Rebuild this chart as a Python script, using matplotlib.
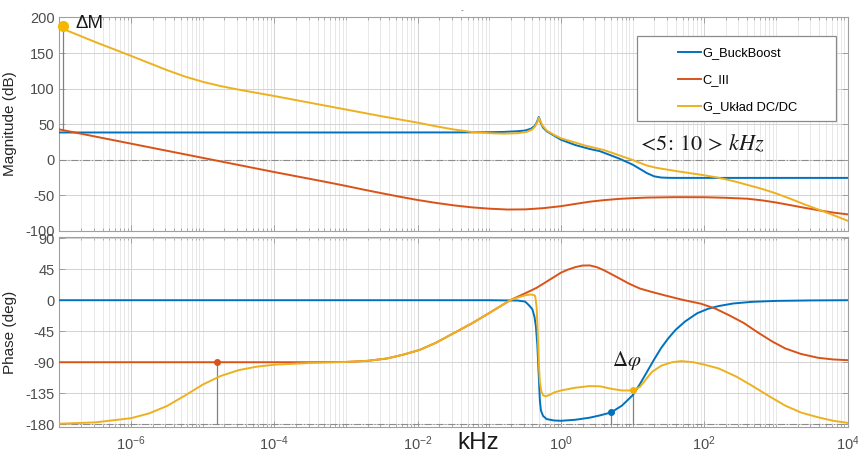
import numpy as np
import matplotlib
matplotlib.use("Agg")
import matplotlib.pyplot as plt
from matplotlib.ticker import LogLocator, MultipleLocator, NullFormatter, FixedLocator
from matplotlib.patches import Rectangle

plt.rcParams['font.family'] = ['Liberation Sans', 'DejaVu Sans']
plt.rcParams['axes.unicode_minus'] = False

# ---------------- data (frequency given as log10 of kHz) ----------------
series_names = ["G_BuckBoost", "C_III", "G_Układ DC/DC"]

mag_buck_exp = [-7, -3, -1.5, -1.0, -0.8, -0.6, -0.5, -0.42, -0.37, -0.34, -0.32, -0.31,
                -0.30, -0.28, -0.25, -0.2, -0.1, 0, 0.2, 0.4, 0.54, 0.8, 1.0, 1.1, 1.2,
                1.3, 1.4, 1.5, 1.6, 2.5, 4]
mag_buck_db = [38.2, 38.2, 38.3, 38.6, 39.0, 40.0, 41.0, 43.5, 47, 52, 57, 60,
               57.5, 51, 45, 40, 34, 28, 20.5, 15, 12, 2, -7, -13, -19,
               -23.5, -25.2, -25.6, -25.7, -25.7, -25.7]

mag_c3_exp = [-7, -6, -5, -4, -3.3, -3, -2.75, -2.5, -2.25, -2, -1.75, -1.5, -1.25, -1.0,
              -0.75, -0.5, -0.25, 0, 0.2, 0.4, 0.6, 0.8, 1.0, 1.2, 1.6, 2.0, 2.3, 2.6,
              2.8, 3.0, 3.2, 3.4, 3.6, 3.8, 4.0]
mag_c3_db = [42.5, 22.5, 2.5, -17.5, -31, -37, -42.3, -47.3, -52.2, -56.8, -60.8, -64.3,
             -67.1, -69, -70.2, -70, -68.3, -65.5, -62.3, -59.2, -57, -55.3, -54.2, -53.4,
             -52.8, -52.9, -53.7, -55, -57.2, -60.3, -64, -67.8, -71.3, -74.5, -77]

mag_sys_exp = [-7, -6.5, -6, -5.75, -5.5, -5.25, -5, -4.75, -4.5, -4.25, -4, -3.5, -3,
               -2.5, -2, -1.75, -1.5, -1.25, -1.0, -0.8, -0.6, -0.48, -0.4, -0.36, -0.33,
               -0.31, -0.29, -0.26, -0.2, -0.1, 0, 0.2, 0.33, 0.6, 0.8, 1.0, 1.1, 1.2,
               1.3, 1.4, 1.6, 1.8, 2.0, 2.2, 2.4, 2.6, 2.8, 3.0, 3.2, 3.4, 3.6, 3.8, 4.0]
mag_sys_db = [186, 165.5, 146, 136, 126, 117, 109.5, 103.5, 98.5, 94, 89.5, 80, 70.5,
              61, 52, 47, 42.5, 39, 37.2, 36.6, 37.2, 39, 42.5, 47, 53,
              59, 55, 48, 41, 35, 30, 24, 20, 13.5, 6.5, -0.5, -4.5, -8.3,
              -10.8, -12.7, -16, -19, -22, -25.5, -30, -35.5, -41, -47.5, -55, -63, -70.5,
              -78, -86]

ph_buck_exp = [-7, -1.0, -0.6, -0.5, -0.45, -0.40, -0.37, -0.35, -0.33, -0.31, -0.295,
               -0.28, -0.25, -0.2, -0.1, 0, 0.2, 0.4, 0.55, 0.7, 0.85, 1.0, 1.1, 1.2,
               1.3, 1.4, 1.5, 1.6, 1.73, 1.9, 2.05, 2.2, 2.4, 2.66, 3.0, 3.5, 4]
ph_buck_deg = [0, 0, -0.5, -2, -7, -13, -24, -38, -65, -110, -145,
               -160, -168, -172.5, -174.5, -175, -173.5, -170.5, -167, -162.8, -153, -138,
               -122, -104, -86, -69, -55, -43, -31, -19, -12.5, -8.5, -4.8, -2.4, -1, -0.3, 0]

ph_c3_exp = [-7, -3.5, -3.0, -2.7, -2.43, -2.2, -1.97, -1.75, -1.5, -1.25, -1.04, -0.85,
             -0.71, -0.5, -0.34, -0.2, -0.1, 0, 0.1, 0.2, 0.3, 0.4, 0.5, 0.6, 0.7, 0.8,
             0.95, 1.1, 1.25, 1.45, 1.7, 1.95, 2.15, 2.35, 2.55, 2.75, 2.95, 3.13, 3.35,
             3.59, 3.8, 4.0]
ph_c3_deg = [-90, -90, -89.6, -88, -84.6, -79, -72, -62, -48, -34, -21, -9,
             0, 10, 18, 27, 33.5, 40, 44.5, 48, 50.3, 50.5, 48, 43.5, 38, 32.5,
             24, 17, 12.5, 7, 0.5, -5, -12, -22, -33, -47, -60, -70, -78,
             -83.6, -86, -87]

ph_sys_exp = [-7, -6.5, -6, -5.75, -5.5, -5.25, -5.0, -4.75, -4.5, -4.25, -4.0, -3.5, -3.0,
              -2.7, -2.43, -2.2, -1.97, -1.75, -1.5, -1.25, -1.04, -0.85, -0.71, -0.6,
              -0.5, -0.43, -0.38, -0.36, -0.34, -0.325, -0.31, -0.295, -0.275, -0.25,
              -0.21, -0.15, -0.1, 0, 0.2, 0.4, 0.55, 0.7, 0.85, 1.0, 1.1, 1.27, 1.4,
              1.55, 1.68, 1.85, 2.0, 2.2, 2.45, 2.66, 2.9, 3.13, 3.35, 3.59, 3.8, 4.0]
ph_sys_deg = [-179.2, -177.3, -171.2, -164.3, -153.6, -138.5, -122.5, -110, -101.5, -96.5,
              -93.6, -91.1, -89.6, -88, -84.6, -79, -72, -62, -48, -34, -21, -9, 0, 4,
              7, 8.3, 7.5, 6, -10, -45, -90, -118, -132, -138,
              -139.5, -137, -134, -131, -127, -124.6, -125, -128.5, -131, -131, -126, -104,
              -95, -90, -88.4, -90, -93.5, -99, -111, -123.7, -139, -153, -163, -170, -175, -178]

# marked points: (log10 kHz, value)
dm_exp, dm_top, dm_bottom = -6.95, 188, 42.3
c3_mark_exp, c3_mark_deg = -4.8, -90
buck_mark_exp, buck_mark_deg = np.log10(5), -162.8
sys_mark_exp, sys_mark_deg = np.log10(10), -131

colors = ['#0072BD', '#D95319', '#EDB120']

# ---------------- figure ----------------
W, H = 858, 454
fig = plt.figure(figsize=(W / 100, H / 100), dpi=100)


def fig_rect(x0, y0, x1, y1):
    return [x0 / W, 1 - y1 / H, (x1 - x0) / W, (y1 - y0) / H]


ax_m = fig.add_axes(fig_rect(59.4, 17.5, 847.6, 230.7))
ax_p = fig.add_axes(fig_rect(59.4, 237.5, 847.6, 427.0), sharex=ax_m)


def f(e):
    return np.power(10.0, np.asarray(e, dtype=float))


lw = 1.4
ax_m.plot(f(mag_buck_exp), mag_buck_db, color=colors[0], lw=lw, label=series_names[0], zorder=4)
ax_m.plot(f(mag_c3_exp), mag_c3_db, color=colors[1], lw=lw, label=series_names[1], zorder=4)
ax_m.plot(f(mag_sys_exp), mag_sys_db, color=colors[2], lw=lw, label=series_names[2], zorder=5)

ax_p.plot(f(ph_buck_exp), ph_buck_deg, color=colors[0], lw=lw, zorder=4)
ax_p.plot(f(ph_c3_exp), ph_c3_deg, color=colors[1], lw=lw, zorder=4)
ax_p.plot(f(ph_sys_exp), ph_sys_deg, color=colors[2], lw=lw, zorder=5)

# reference lines
ax_m.axhline(0, color='#8c8c8c', lw=0.8, ls='-.', zorder=2)
ax_p.axhline(-180, color='#8c8c8c', lw=0.8, ls='-.', zorder=2)

# markers with drop lines
mark_line = dict(color='#808080', lw=0.9, zorder=3)
ax_m.plot([f(dm_exp)] * 2, [dm_bottom, dm_top], **mark_line)
ax_m.plot(f(dm_exp), dm_top, 'o', color='#F5B800', ms=7, zorder=6, clip_on=False)
for e, v, c in [(c3_mark_exp, c3_mark_deg, colors[1]),
                (buck_mark_exp, buck_mark_deg, colors[0]),
                (sys_mark_exp, sys_mark_deg, '#F5B000')]:
    ax_p.plot([f(e)] * 2, [-180, v], **mark_line)
    ax_p.plot(f(e), v, 'o', color=c, ms=4, zorder=6)

# axes styling
spine_c = '#a0a0a0'
tick_c = '#4d4d4d'
for ax in (ax_m, ax_p):
    ax.set_xscale('log')
    ax.set_xlim(1e-7, 1e4)
    ax.xaxis.set_major_locator(FixedLocator([1e-6, 1e-4, 1e-2, 1e0, 1e2, 1e4]))
    ax.xaxis.set_minor_locator(LogLocator(base=10, subs=np.arange(1, 10), numticks=50))
    ax.xaxis.set_minor_formatter(NullFormatter())
    for s in ax.spines.values():
        s.set_color(spine_c)
        s.set_linewidth(0.8)
    ax.tick_params(which='both', direction='in', top=True, right=True, colors=spine_c,
                   labelcolor=tick_c, labelsize=10.5)
    ax.tick_params(which='major', length=4, width=0.7)
    ax.tick_params(which='minor', length=2.5, width=0.6)
    ax.grid(which='major', color='#d2d2d2', lw=0.7, zorder=0)
    ax.grid(which='minor', axis='x', color='#e4e4e4', lw=0.6, zorder=0)
    ax.set_axisbelow(True)

ax_m.set_ylim(-100, 200)
ax_m.yaxis.set_major_locator(MultipleLocator(50))
ax_m.tick_params(axis='x', labelbottom=False)
ax_p.set_ylim(-184, 91)
ax_p.yaxis.set_major_locator(FixedLocator([90, 45, 0, -45, -90, -135, -180]))
ax_p.tick_params(axis='x', pad=5)

ax_m.set_ylabel('Magnitude (dB)', fontsize=11, color='#262626')
ax_p.set_ylabel('Phase (deg)', fontsize=11, color='#262626')
ax_m.yaxis.set_label_coords(-0.054, 0.5)
ax_p.yaxis.set_label_coords(-0.054, 0.5)

# legend inside a wide frame
frame = Rectangle((637 / W, 1 - 121 / H), (836 - 637) / W, (121 - 36) / H,
                  transform=fig.transFigure, facecolor='white', edgecolor='#8a8a8a',
                  lw=0.9, zorder=10, clip_on=False)
ax_m.add_artist(frame)
leg = ax_m.legend(loc='upper left', bbox_to_anchor=(678 / W, 1 - 47 / H),
                  bbox_transform=fig.transFigure, frameon=False, fontsize=9.3,
                  handlelength=1.75, handletextpad=0.15, labelspacing=1.17,
                  borderpad=0, borderaxespad=0)
leg.set_zorder(11)

# annotations
fig.text(89.5 / W, 1 - 24 / H, 'ΔM', fontsize=13.5, ha='center', va='center', color='#1a1a1a')
fig.text(701 / W, 1 - 145 / H, r'$<\!5\!:\,10\,>\,kHz$', fontsize=16, ha='center', va='center',
         math_fontfamily='stix', color='#1a1a1a')
fig.text(627 / W, 1 - 360 / H, r'$\Delta\varphi$', fontsize=15, ha='center', va='center',
         math_fontfamily='stix', color='#1a1a1a')
fig.text(478 / W, 1 - 443 / H, 'kHz', fontsize=17.5, ha='center', va='center', color='#1a1a1a')
fig.text(462 / W, 1 - 11 / H, '-', fontsize=6, ha='center', va='center', color='#555555')

fig.savefig('out.png', dpi=100)
